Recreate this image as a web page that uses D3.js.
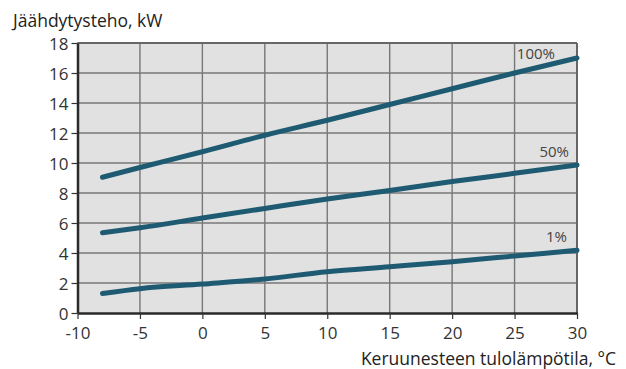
<!DOCTYPE html>
<html><head><meta charset="utf-8">
<script src="https://cdn.jsdelivr.net/npm/d3@7"></script>
<style>body{margin:0;background:#fff}svg{display:block}text{font-family:"Open Sans",sans-serif}</style>
</head><body><div id="c"></div>
<script>
const temps = [-8, -5, 0, 5, 10, 15, 20, 25, 30];
const p100 = [9.05, 9.7, 10.75, 11.85, 12.85, 13.9, 14.95, 16.0, 17.0];
const p50 = [5.35, 5.68, 6.33, 6.97, 7.6, 8.17, 8.76, 9.31, 9.87];
const p1 = [1.3, 1.62, 1.93, 2.27, 2.75, 3.08, 3.42, 3.8, 4.18];
const seriesNames = ["100%", "50%", "1%"];
const xTicks = [-10, -5, 0, 5, 10, 15, 20, 25, 30];
const yTicks = [0, 2, 4, 6, 8, 10, 12, 14, 16, 18];
const yTitle = "Jäähdytysteho, kW";
const xTitle = "Keruunesteen tulolämpötila, °C";

const W = 626, H = 369;
const m = {l: 77.5, r: 49, t: 43, b: 56};
const svg = d3.select("#c").append("svg").attr("width", W).attr("height", H);
const x = d3.scaleLinear().domain([-10, 30]).range([m.l, W - m.r]);
const y = d3.scaleLinear().domain([0, 18]).range([H - m.b, m.t]);

svg.append("rect").attr("x", x(-10)).attr("y", y(18)).attr("width", x(30) - x(-10)).attr("height", y(0) - y(18)).attr("fill", "#e1e1e1");

const g = svg.append("g");
g.selectAll(".vg").data(xTicks.slice(1)).join("line")
  .attr("x1", d => x(d)).attr("x2", d => x(d)).attr("y1", y(0)).attr("y2", y(18))
  .attr("stroke", "#777").attr("stroke-width", 1.4);
g.selectAll(".hg").data(yTicks.slice(1)).join("line")
  .attr("x1", x(-10)).attr("x2", x(30)).attr("y1", d => y(d)).attr("y2", d => y(d))
  .attr("stroke", "#777").attr("stroke-width", 1.4);
svg.append("line").attr("x1", x(-10)).attr("x2", x(30)).attr("y1", y(18)).attr("y2", y(18)).attr("stroke", "#666").attr("stroke-width", 2);
svg.append("line").attr("x1", x(30)).attr("x2", x(30)).attr("y1", y(18)).attr("y2", y(0)).attr("stroke", "#666").attr("stroke-width", 2);

const series = [p100, p50, p1];
const line = d3.line().x((d, i) => x(temps[i])).y(d => y(d)).curve(d3.curveMonotoneX);
svg.selectAll(".ser").data(series).join("path")
  .attr("d", d => line(d)).attr("fill", "none").attr("stroke", "#1e5b72")
  .attr("stroke-width", 5).attr("stroke-linecap", "round");

const xa = svg.append("g").attr("transform", `translate(0,${y(0)})`)
  .call(d3.axisBottom(x).tickValues(xTicks).tickSize(6).tickSizeOuter(0).tickFormat(d => d < 0 ? "-" + Math.abs(d) : d));
const ya = svg.append("g").attr("transform", `translate(${x(-10)},0)`)
  .call(d3.axisLeft(y).tickValues(yTicks).tickSize(6).tickSizeOuter(0));
[xa, ya].forEach(a => {
  a.select(".domain").attr("stroke", "#2a2a2a").attr("stroke-width", 2.5);
  a.selectAll(".tick line").attr("stroke", "#333").attr("stroke-width", 1.2);
  a.selectAll(".tick text").attr("fill", "#333").style("font-size", "17px").style("font-family", "'Open Sans',sans-serif");
});
xa.selectAll(".tick text").attr("dy", "0").attr("y", 26);
ya.selectAll(".tick text").attr("x", -9).attr("dy", "0.36em");

// series labels: right edge and baseline offset relative to last point
const labRight = [555, 569, 567];
const labDy = [1, -8, -8];
svg.selectAll(".lab").data(series).join("text")
  .attr("x", (d, i) => labRight[i])
  .attr("y", (d, i) => y(d[d.length - 1]) + labDy[i])
  .attr("text-anchor", "end").attr("fill", "#444").style("font-size", "15px")
  .text((d, i) => seriesNames[i]);

svg.append("text").attr("x", 13).attr("y", 27).attr("fill", "#222").style("font-size", "17.5px").text(yTitle);
svg.append("text").attr("x", 616).attr("y", 365).attr("text-anchor", "end").attr("fill", "#222").style("font-size", "17.5px").text(xTitle);
</script></body></html>
